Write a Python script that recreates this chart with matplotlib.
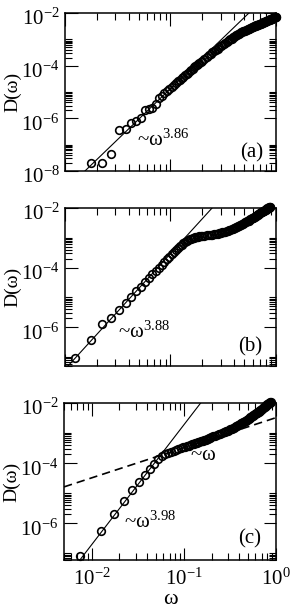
import numpy as np
import matplotlib
matplotlib.use("Agg")
import matplotlib.pyplot as plt
import matplotlib.transforms as mtransforms
from matplotlib.ticker import NullFormatter

plt.rcParams['font.family'] = 'serif'
plt.rcParams['font.serif'] = ['Liberation Serif', 'DejaVu Serif']
plt.rcParams['mathtext.fontset'] = 'custom'
plt.rcParams['mathtext.rm'] = 'Liberation Serif'
plt.rcParams['mathtext.it'] = 'Liberation Serif:italic'
plt.rcParams['mathtext.bf'] = 'Liberation Serif:bold'

# frequency bins (shared by the three panels)
omega = [0.0075, 0.0125, 0.0175, 0.0225, 0.0275, 0.0325, 0.0375, 0.0425, 0.0475,
         0.0525, 0.0575, 0.0625, 0.0675, 0.0725, 0.0775, 0.0825, 0.0875,
         0.0925, 0.0975, 0.1025, 0.1075, 0.1125, 0.1175, 0.1225, 0.1275, 0.1325,
         0.1375, 0.1425, 0.1475, 0.1525, 0.1575, 0.1625, 0.1675, 0.1725, 0.1775,
         0.1825, 0.1875, 0.1925, 0.1975,
         0.21, 0.22, 0.23, 0.24, 0.25, 0.26, 0.27, 0.28, 0.29, 0.30,
         0.31, 0.32, 0.33, 0.34, 0.35, 0.36, 0.37, 0.38, 0.39, 0.40,
         0.41, 0.42, 0.43, 0.44, 0.45, 0.46, 0.47, 0.48, 0.49, 0.50,
         0.51, 0.52, 0.53, 0.54, 0.55, 0.56, 0.57, 0.58, 0.59, 0.60,
         0.61, 0.62, 0.63, 0.64, 0.65, 0.66, 0.67, 0.68, 0.69, 0.70,
         0.71, 0.72, 0.73, 0.74, 0.75, 0.76, 0.77, 0.78, 0.79, 0.80,
         0.81, 0.82, 0.83, 0.84, 0.85, 0.86, 0.87, 0.88, 0.89, 0.90,
         0.91, 0.92, 0.93, 0.94, 0.95, 0.96, 0.97, 0.98, 0.99, 1.00]

# log10 D(omega) (None = no point)
logD_a = [None, None, -7.68, -7.68, -7.35, -6.45, -6.42, -6.19, -6.09,
          -5.97, -5.70, -5.66, -5.59, -5.46, -5.22, -5.14, -5.05,
          -4.97, -4.89, -4.81, -4.74, -4.67, -4.60, -4.54, -4.48, -4.42,
          -4.36, -4.31, -4.26, -4.21, -4.16, -4.11, -4.07, -4.02, -3.98,
          -3.94, -3.90, -3.86, -3.82,
          -3.73, -3.66, -3.60, -3.54, -3.49, -3.44, -3.39, -3.35, -3.30, -3.26,
          -3.22, -3.18, -3.14, -3.11, -3.07, -3.04, -3.00, -2.97, -2.93, -2.90,
          -2.88, -2.85, -2.83, -2.80, -2.78, -2.76, -2.74, -2.72, -2.70, -2.68,
          -2.67, -2.65, -2.64, -2.62, -2.61, -2.59, -2.58, -2.56, -2.55, -2.53,
          -2.52, -2.51, -2.50, -2.48, -2.47, -2.46, -2.45, -2.44, -2.43, -2.42,
          -2.41, -2.40, -2.39, -2.38, -2.37, -2.36, -2.35, -2.34, -2.33, -2.32,
          -2.31, -2.30, -2.29, -2.28, -2.27, -2.26, -2.25, -2.24, -2.23, -2.22,
          -2.22, -2.21, -2.20, -2.19, -2.18, -2.17, -2.17, -2.16, -2.15, -2.14]

logD_b = [None, -7.03, -6.42, -5.88, -5.70, -5.43, -5.18, -4.98, -4.80,
          -4.64, -4.49, -4.35, -4.22, -4.11, -4.00, -3.90, -3.80,
          -3.71, -3.63, -3.55, -3.48, -3.41, -3.35, -3.29, -3.24, -3.19,
          -3.15, -3.11, -3.08, -3.05, -3.03, -3.01, -2.99, -2.98, -2.97,
          -2.96, -2.95, -2.95, -2.94,
          -2.93, -2.92, -2.91, -2.90, -2.89, -2.88, -2.87, -2.86, -2.85, -2.84,
          -2.82, -2.81, -2.79, -2.78, -2.76, -2.75, -2.73, -2.71, -2.70, -2.68,
          -2.66, -2.64, -2.63, -2.61, -2.59, -2.57, -2.56, -2.54, -2.52, -2.50,
          -2.48, -2.46, -2.45, -2.43, -2.42, -2.40, -2.38, -2.36, -2.35, -2.33,
          -2.32, -2.30, -2.29, -2.27, -2.26, -2.24, -2.23, -2.21, -2.20, -2.18,
          -2.17, -2.15, -2.14, -2.13, -2.11, -2.10, -2.09, -2.08, -2.06, -2.05,
          -2.04, -2.03, -2.01, -2.00, -1.99, -1.98, -1.97, -1.96, None, None,
          None, None, None, None, None, None, None, None, None, None]

logD_c = [-7.10, -6.25, -5.68, -5.25, -4.90, -4.63, -4.40, -4.20, -4.04,
          -3.88, -3.78, -3.70, -3.65, -3.62, -3.59, -3.56, -3.53,
          -3.50, -3.48, -3.46, -3.44, -3.42, -3.40, -3.38, -3.36, -3.34,
          -3.32, -3.31, -3.29, -3.28, -3.26, -3.25, -3.23, -3.22, -3.20,
          -3.19, -3.17, -3.16, -3.14,
          -3.11, -3.09, -3.07, -3.04, -3.02, -3.00, -2.98, -2.96, -2.94, -2.92,
          -2.90, -2.88, -2.86, -2.84, -2.82, -2.80, -2.78, -2.76, -2.74, -2.72,
          -2.70, -2.68, -2.66, -2.64, -2.62, -2.60, -2.59, -2.57, -2.55, -2.53,
          -2.52, -2.50, -2.48, -2.46, -2.45, -2.43, -2.41, -2.40, -2.38, -2.36,
          -2.35, -2.33, -2.32, -2.30, -2.29, -2.27, -2.26, -2.24, -2.23, -2.21,
          -2.20, -2.18, -2.17, -2.15, -2.14, -2.12, -2.11, -2.09, -2.08, -2.06,
          -2.05, -2.04, -2.02, -2.01, -2.00, -1.99, -1.98, -1.97, None, None,
          None, None, None, None, None, None, None, None, None, None]

# power-law fits: (log10 prefactor, exponent)
fit_a = (-1.01, 3.86)
fit_b = (0.35, 3.88)
fit_c = (1.25, 3.98)
fit_c_lin = (-2.49, 1.0)

panels = [
    # data, fit, xlim, ylim, exponent label, letter
    (logD_a, fit_a, (0.01, 1.0), (1e-8, 1e-2), '3.86', '(a)'),
    (logD_b, fit_b, (0.01, 1.0), (5e-8, 1e-2), '3.88', '(b)'),
    (logD_c, fit_c, (0.005, 1.0), (6e-8, 1e-2), '3.98', '(c)'),
]
# axes rectangles in figure fraction
rects = [(0.2234, 0.7197, 0.725, 0.259),
         (0.2234, 0.4000, 0.725, 0.259),
         (0.2200, 0.0820, 0.728, 0.2574)]
# text positions (axes fraction): exponent label, panel letter
exp_pos = [(0.34, 0.158), (0.25, 0.177), (0.285, 0.204)]
let_pos = [(0.83, 0.085), (0.82, 0.09), (0.82, 0.105)]

om = np.array(omega)
fig = plt.figure(figsize=(2.91, 6.10), dpi=100)
down = mtransforms.ScaledTranslation(0, -3.0 / 72, fig.dpi_scale_trans)

for i, (logD, fit, xl, yl, expo, letter) in enumerate(panels):
    ax = fig.add_axes(rects[i])
    ax.set_xscale('log')
    ax.set_yscale('log')
    d = np.array([np.nan if v is None else 10.0 ** v for v in logD])
    ax.plot(om, d, 'o', ms=5.5, mfc='none', mec='k', mew=1.2, clip_on=False)
    xs = np.array(xl)
    ax.plot(xs, 10.0 ** fit[0] * xs ** fit[1], 'k-', lw=0.8)
    if i == 2:
        ax.plot(xs, 10.0 ** fit_c_lin[0] * xs ** fit_c_lin[1], 'k--', lw=1.2,
                dashes=(5, 3))
        ax.text(0.595, 0.637, '~$\\mathrm{\\omega}$', transform=ax.transAxes,
                fontsize=15, va='baseline')
    ax.text(exp_pos[i][0], exp_pos[i][1], '~$\\mathrm{\\omega}^{%s}$' % expo,
            transform=ax.transAxes, fontsize=15, va='baseline')
    ax.text(let_pos[i][0], let_pos[i][1], letter, transform=ax.transAxes,
            fontsize=15, va='baseline')
    ax.set_xlim(*xl)
    ax.set_ylim(*yl)

    ax.set_yticks([1e-8, 1e-6, 1e-4, 1e-2])
    ymin = [k * 10.0 ** e for e in (-8, -6, -4) for k in range(2, 11)]
    ax.set_yticks(ymin, minor=True)
    ax.set_ylim(*yl)
    ax.yaxis.set_minor_formatter(NullFormatter())
    ax.tick_params(which='both', direction='in', top=True, right=True,
                   labelsize=15, width=0.8)
    ax.tick_params(which='major', length=9, pad=4)
    ax.tick_params(which='minor', length=5)
    ax.tick_params(axis='x', which='major', pad=6)
    for lab in ax.get_yticklabels():
        lab.set_transform(lab.get_transform() + down)
    for s in ax.spines.values():
        s.set_linewidth(1.1)
    ax.set_ylabel('D(ω)', fontsize=14, labelpad=0)
    if i < 2:
        ax.xaxis.set_major_formatter(NullFormatter())
        ax.xaxis.set_minor_formatter(NullFormatter())
    else:
        ax.xaxis.set_minor_formatter(NullFormatter())
        ax.set_xlabel('ω', fontsize=16, labelpad=0)

fig.savefig('out.png', dpi=100)
